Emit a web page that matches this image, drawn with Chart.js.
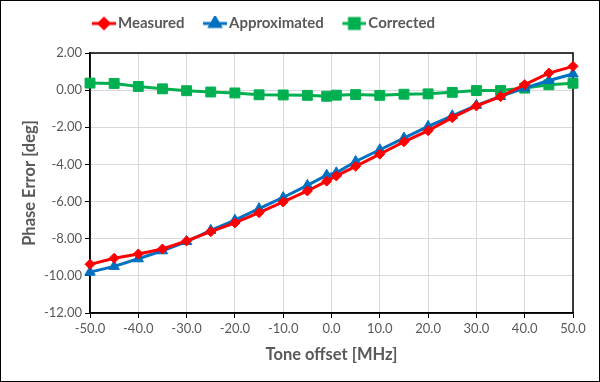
<!DOCTYPE html>
<html>
<head>
<meta charset="utf-8">
<script src="https://cdn.jsdelivr.net/npm/chart.js@4/dist/chart.umd.min.js"></script>
<style>
html,body{margin:0;padding:0;background:#fff;}
#wrap{width:600px;height:382px;position:relative;}
</style>
</head>
<body>
<div id="wrap"><canvas id="c" width="600" height="382"></canvas></div>
<script>
const toneOffsets = [-50,-45,-40,-35,-30,-25,-20,-15,-10,-5,-1,1,5,10,15,20,25,30,35,40,45,50];
const measured = [-9.38,-9.05,-8.82,-8.55,-8.12,-7.62,-7.15,-6.60,-6.02,-5.43,-4.90,-4.62,-4.10,-3.45,-2.78,-2.18,-1.48,-0.85,-0.35,0.30,0.92,1.28];
const approximated = [-9.80,-9.49,-9.08,-8.65,-8.15,-7.55,-7.00,-6.38,-5.78,-5.13,-4.58,-4.45,-3.84,-3.21,-2.58,-1.95,-1.38,-0.82,-0.34,0.11,0.52,0.87];
const corrected = [0.38,0.36,0.20,0.07,-0.03,-0.10,-0.15,-0.25,-0.26,-0.28,-0.33,-0.27,-0.24,-0.28,-0.22,-0.20,-0.12,-0.02,-0.02,0.11,0.29,0.37];
const seriesNames = ['Measured','Approximated','Corrected'];
const xTitle = 'Tone offset [MHz]';
const yTitle = 'Phase Error [deg]';

const colors = ['#FF0000','#0070C0','#00B050'];
const styles = ['rectRot','triangle','rect'];
const radii = [5,6,7];

const LEGEND_FONT = 15;
const LEGEND_PAD = 8;
const LEGEND_BOX = 29;

function legendIcon(color, style, r){
  const cv = document.createElement('canvas');
  cv.width = 40; cv.height = 16;
  const g = cv.getContext('2d');
  g.strokeStyle = color; g.lineWidth = 3;
  g.beginPath(); g.moveTo(16,8); g.lineTo(40,8); g.stroke();
  g.fillStyle = color;
  Chart.helpers.drawPoint(g, {pointStyle: style, radius: r, borderWidth: 1}, 28, 8);
  g.fill();
  return cv;
}

const frame = {
  id: 'frame',
  beforeDatasetsDraw(chart){
    const {ctx, chartArea: a} = chart;
    ctx.save();
    ctx.strokeStyle = '#000';
    ctx.lineWidth = 1.5;
    ctx.strokeRect(a.left, a.top, a.right - a.left, a.bottom - a.top);
    ctx.restore();
  },
  afterDraw(chart){
    const ctx = chart.ctx;
    ctx.save();
    ctx.strokeStyle = '#000';
    ctx.lineWidth = 1;
    ctx.strokeRect(0.5, 0.5, chart.width - 1, chart.height - 1);
    ctx.restore();
  }
};

const legendTweak = {
  id: 'legendTweak',
  beforeLayout(chart){
    const lg = chart.legend;
    if (lg && !lg._tweaked){
      const orig = lg.fit;
      lg.fit = function(){ orig.call(this); this.height += 12; };
      lg._tweaked = true;
    }
  },
  afterLayout(chart){
    const lg = chart.legend;
    if (!lg || !lg.lineWidths) return;
    const cur = (lg.left + LEGEND_PAD + lg.right - lg.lineWidths[0]) / 2;
    const dx = 81.5 - cur;
    lg.left += dx; lg.right += dx;
  }
};

const seriesData = [measured, approximated, corrected];
const datasets = seriesData.map((vals, i) => ({
  label: seriesNames[i],
  data: toneOffsets.map((x, j) => ({x: x, y: vals[j]})),
  borderColor: colors[i],
  backgroundColor: colors[i],
  borderWidth: 3,
  pointStyle: styles[i],
  pointRadius: radii[i],
  pointHoverRadius: radii[i],
  pointBorderWidth: 1,
  tension: 0,
  clip: false
}));

Chart.defaults.font.family = 'Lato, "Liberation Sans", sans-serif';
Chart.defaults.color = '#595959';

new Chart(document.getElementById('c'), {
  type: 'line',
  data: { datasets: datasets },
  options: {
    responsive: false,
    animation: false,
    events: [],
    layout: { padding: { left: 0, right: 27, top: 8, bottom: 0 } },
    plugins: {
      tooltip: { enabled: false },
      legend: {
        position: 'top',
        labels: {
          usePointStyle: true,
          pointStyleWidth: LEGEND_BOX,
          padding: LEGEND_PAD,
          color: '#595959',
          font: { size: LEGEND_FONT, weight: 'bold' },
          generateLabels(chart){
            return chart.data.datasets.map((d, i) => ({
              text: d.label,
              pointStyle: legendIcon(colors[i], styles[i], radii[i]),
              fillStyle: colors[i],
              strokeStyle: colors[i],
              lineWidth: 0,
              hidden: false,
              datasetIndex: i,
              fontColor: '#595959'
            }));
          }
        }
      }
    },
    scales: {
      x: {
        type: 'linear',
        min: -50, max: 50,
        afterFit(s){ s.height = 69; },
        ticks: { stepSize: 10, autoSkip: false, maxRotation: 0, padding: 3,
                 font: { size: 13 }, color: '#595959',
                 callback: v => v.toFixed(1) },
        grid: { color: '#D9D9D9', lineWidth: 1, tickLength: 5, tickColor: '#000' },
        border: { color: '#000', width: 1.5 },
        title: { display: true, text: xTitle, color: '#595959',
                 font: { size: 16.5, weight: 'bold' }, padding: { top: 0, bottom: 17 } }
      },
      y: {
        min: -12, max: 2,
        afterFit(s){ s.width = 90; },
        ticks: { stepSize: 2, padding: 3, font: { size: 13 }, color: '#595959',
                 callback: v => v.toFixed(2) },
        grid: { color: '#D9D9D9', lineWidth: 1, tickLength: 5, tickColor: '#000' },
        border: { color: '#000', width: 1.5 },
        title: { display: true, text: yTitle, color: '#595959',
                 font: { size: 16.5, weight: 'bold' }, padding: { top: 20, bottom: 0 } }
      }
    }
  },
  plugins: [frame, legendTweak]
});
</script>
</body>
</html>
